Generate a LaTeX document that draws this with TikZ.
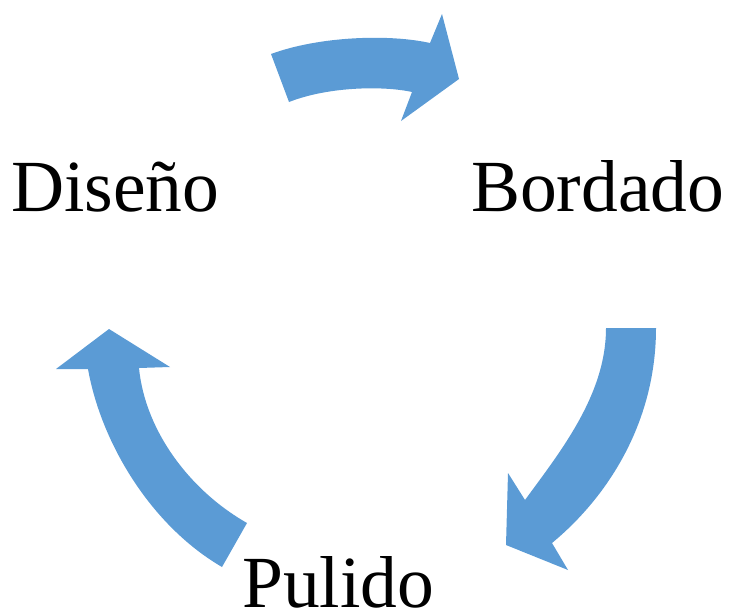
\documentclass[tikz,border=0pt]{standalone}
\usepackage{fontspec}
\setmainfont{Liberation Serif}
\definecolor{arrowblue}{HTML}{5B9BD5}
\tikzset{
  label/.style={font=\fontsize{73.5}{80}\selectfont, text=black, inner sep=0pt, anchor=base west},
  blockarrow/.style={fill=arrowblue, draw=none}
}
\begin{document}
\begin{tikzpicture}[x=1pt,y=-1pt]
\useasboundingbox (0,0) rectangle (730,613);
% labels
\node[label] (dis) at (11,211) {Diseño};
\node[label] (bor) at (471,211) {Bordado};
\node[label] (pul) at (242,607) {Pulido};
% top arrow: Diseño -> Bordado
\path[blockarrow] (271,54) .. controls (320,36) and (390,34) .. (430,43)
  -- (442,14) -- (459,79) -- (401,121) -- (412,92)
  .. controls (385,86) and (330,86) .. (289,102) -- cycle;
% right arrow: Bordado -> Pulido
\path[blockarrow] (606,328) -- (656,328)
  .. controls (656,420) and (610,495) .. (552,543)
  -- (568,570) -- (506,545) -- (508,473) -- (525,500)
  .. controls (560,452) and (606,395) .. (606,328) -- cycle;
% left arrow: Pulido -> Diseño
\path[blockarrow] (222,567) .. controls (150,525) and (101,442) .. (88,369)
  -- (56,369) -- (109,329) -- (170,367) -- (139,368)
  .. controls (145,430) and (189,490) .. (247,523) -- cycle;
\end{tikzpicture}
\end{document}
